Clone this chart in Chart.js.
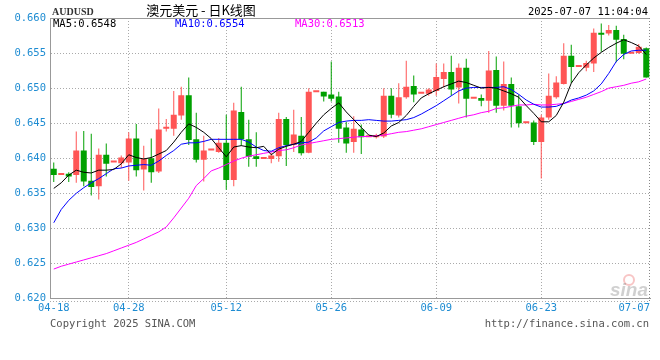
<!DOCTYPE html>
<html>
<head>
<meta charset="utf-8">
<title>澳元美元 - 日K线图</title>
<script src="https://cdn.jsdelivr.net/npm/chart.js@4.4.1/dist/chart.umd.min.js"></script>
<style>
  body { margin: 0; background: #fff; }
</style>
</head>
<body>
<canvas id="myChart" width="660" height="360"></canvas>
<script>
// header texts
var symbol = 'AUDUSD';
var title = '澳元美元 - 日K线图';
var stamp = '2025-07-07 11:04:04';
var copyright = 'Copyright 2025 SINA.COM';
var siteUrl = 'http://finance.sina.com.cn';

// one candle per day (saturdays are the small dashes)
var dates = [
  '04-18','04-19','04-20','04-21','04-22','04-23','04-24','04-25','04-26','04-27',
  '04-28','04-29','04-30','05-01','05-02','05-03','05-05','05-06','05-07','05-08',
  '05-09','05-10','05-11','05-12','05-13','05-14','05-15','05-16','05-17','05-18',
  '05-19','05-20','05-21','05-22','05-23','05-24','05-25','05-26','05-27','05-28',
  '05-29','05-30','05-31','06-01','06-02','06-03','06-04','06-05','06-06','06-07',
  '06-08','06-09','06-10','06-11','06-12','06-13','06-14','06-15','06-16','06-17',
  '06-18','06-19','06-20','06-21','06-22','06-23','06-24','06-25','06-26','06-27',
  '06-28','06-29','06-30','07-01','07-02','07-03','07-04','07-05','07-06','07-07'
];

var open = [
  .6385,.6376,.6378,.6376,.6411,.6368,.6360,.6405,.6394,.6393,
  .6394,.6428,.6384,.6400,.6381,.6442,.6442,.6461,.6490,.6427,
  .6398,.6411,.6409,.6422,.6369,.6466,.6427,.6403,.6399,.6399,
  .6403,.6456,.6419,.6432,.6408,.6494,.6495,.6491,.6488,.6444,
  .6423,.6441,.6430,.6430,.6431,.6489,.6461,.6487,.6503,.6492,
  .6492,.6496,.6513,.6523,.6501,.6529,.6485,.6486,.6482,.6526,
  .6475,.6506,.6474,.6450,.6451,.6423,.6458,.6487,.6506,.6546,
  .6530,.6529,.6535,.6579,.6578,.6583,.6570,.6549,.6550,.6557
];
var high = [
  .6394,.6376,.6380,.6438,.6439,.6435,.6414,.6421,.6394,.6404,
  .6437,.6449,.6418,.6428,.6471,.6456,.6496,.6502,.6515,.6465,
  .6432,.6411,.6429,.6462,.6479,.6502,.6455,.6437,.6399,.6408,
  .6465,.6459,.6469,.6459,.6500,.6494,.6495,.6538,.6495,.6452,
  .6460,.6448,.6430,.6435,.6500,.6500,.6507,.6539,.6518,.6492,
  .6500,.6535,.6535,.6546,.6535,.6542,.6485,.6491,.6553,.6545,
  .6538,.6515,.6491,.6450,.6454,.6462,.6521,.6517,.6564,.6562,
  .6530,.6539,.6585,.6592,.6590,.6589,.6576,.6549,.6563,.6558
];
var low = [
  .6366,.6376,.6366,.6365,.6360,.6347,.6341,.6374,.6394,.6386,
  .6368,.6374,.6354,.6365,.6379,.6438,.6432,.6455,.6419,.6394,
  .6367,.6411,.6408,.6355,.6360,.6418,.6388,.6388,.6399,.6393,
  .6395,.6389,.6409,.6404,.6407,.6494,.6481,.6481,.6422,.6408,
  .6408,.6406,.6430,.6428,.6429,.6457,.6458,.6485,.6480,.6492,
  .6489,.6489,.6501,.6489,.6478,.6458,.6485,.6474,.6465,.6465,
  .6468,.6444,.6444,.6450,.6419,.6371,.6455,.6485,.6505,.6507,
  .6530,.6524,.6523,.6552,.6575,.6537,.6541,.6549,.6549,.6515
];
var close = [
  .6376,.6376,.6374,.6411,.6367,.6359,.6405,.6392,.6394,.6401,
  .6428,.6383,.6399,.6380,.6441,.6442,.6462,.6490,.6426,.6398,
  .6411,.6411,.6422,.6369,.6468,.6427,.6402,.6399,.6399,.6404,
  .6456,.6419,.6434,.6407,.6495,.6494,.6488,.6485,.6442,.6421,
  .6442,.6430,.6430,.6433,.6489,.6462,.6487,.6502,.6491,.6492,
  .6498,.6516,.6523,.6498,.6529,.6485,.6485,.6482,.6525,.6475,
  .6506,.6475,.6450,.6450,.6423,.6458,.6489,.6508,.6546,.6530,
  .6530,.6536,.6579,.6576,.6583,.6569,.6549,.6549,.6559,.6515
];

// moving averages as drawn on the chart
var ma5 = [
  .6357,.6365,.6376,.6383,.6380,.6379,.6383,.6383,.6384,.6392,
  .6405,.6401,.6399,.6401,.6406,.6411,.6423,.6437,.6449,.6444,
  .6437,.6428,.6415,.6402,.6416,.6418,.6416,.6415,.6417,.6405,
  .6413,.6417,.6420,.6424,.6437,.6450,.6462,.6471,.6479,.6466,
  .6455,.6444,.6433,.6431,.6436,.6446,.6451,.6461,.6474,.6486,
  .6492,.6497,.6502,.6506,.6510,.6508,.6504,.6500,.6501,.6500,
  .6496,.6492,.6487,.6475,.6464,.6452,.6452,.6461,.6480,.6507,
  .6522,.6533,.6543,.6551,.6558,.6564,.6569,.6565,.6560,.6548
];
var ma10 = [
  .6308,.6327,.6340,.6350,.6358,.6365,.6371,.6378,.6385,.6386,
  .6389,.6390,.6391,.6390,.6396,.6404,.6411,.6420,.6422,.6422,
  .6424,.6427,.6427,.6427,.6427,.6427,.6423,.6416,.6411,.6410,
  .6415,.6418,.6420,.6422,.6423,.6429,.6439,.6445,.6451,.6453,
  .6454,.6454,.6455,.6454,.6453,.6453,.6454,.6455,.6458,.6463,
  .6469,.6475,.6482,.6489,.6496,.6500,.6501,.6501,.6501,.6501,
  .6502,.6498,.6491,.6483,.6477,.6473,.6473,.6474,.6478,.6483,
  .6486,.6490,.6496,.6506,.6521,.6538,.6548,.6553,.6554,.6554
];
var ma30 = [
  .6242,.6246,.6249,.6252,.6255,.6258,.6261,.6264,.6268,.6272,
  .6276,.6280,.6285,.6290,.6295,.6302,.6315,.6329,.6343,.6361,
  .6371,.6382,.6386,.6391,.6396,.6400,.6403,.6405,.6407,.6409,
  .6411,.6412,.6415,.6419,.6421,.6423,.6425,.6427,.6428,.6429,
  .6430,.6431,.6431,.6432,.6433,.6435,.6437,.6438,.6440,.6442,
  .6445,.6448,.6451,.6454,.6457,.6460,.6462,.6465,.6467,.6471,
  .6472,.6474,.6476,.6476,.6477,.6476,.6476,.6477,.6478,.6481,
  .6484,.6487,.6491,.6495,.6500,.6502,.6504,.6507,.6509,.6513
];

// axes
var xLabelDates = ['04-18','04-28','05-12','05-26','06-09','06-23','07-07'];
var xGridDates = ['04-28','05-12','05-26','06-09','06-23'];
var yMin = 0.620, yMax = 0.660, yStep = 0.005;

var upColor = '#ff5555';
var downColor = '#00a000';
var axisBlue = '#1e8cd2';
var mono = '"DejaVu Sans Mono", "Liberation Mono", monospace';

var wicks = low.map(function(l, i) { return [l, high[i]]; });
var bodies = open.map(function(o, i) { return [Math.min(o, close[i]), Math.max(o, close[i])]; });
var candleColors = close.map(function(c, i) { return c >= open[i] ? upColor : downColor; });

// texts, border lines and the watermark
var sinaPlugin = {
  id: 'sinaDecor',
  beforeDatasetsDraw: function(chart) {
    var c = chart.ctx, a = chart.chartArea;
    c.save();
    // watermark
    c.strokeStyle = 'rgba(235,90,90,0.35)';
    c.lineWidth = 2;
    c.beginPath();
    c.arc(629, 280, 5, 0, Math.PI * 2);
    c.stroke();
    c.fillStyle = 'rgba(120,120,120,0.35)';
    c.font = 'italic bold 19px "Liberation Sans", Arial, sans-serif';
    c.textAlign = 'right';
    c.textBaseline = 'alphabetic';
    c.fillText('sina', 648, 296);
    // top line
    c.strokeStyle = '#999';
    c.lineWidth = 1;
    c.beginPath();
    c.moveTo(a.left, Math.round(a.top) + 0.5);
    c.lineTo(a.right, Math.round(a.top) + 0.5);
    c.stroke();
    // right border and the dotted line under the x axis
    c.setLineDash([1, 2]);
    c.strokeStyle = '#888';
    c.beginPath();
    c.moveTo(Math.round(a.right) - 0.5, a.top);
    c.lineTo(Math.round(a.right) - 0.5, a.bottom + 3);
    c.stroke();
    c.strokeStyle = '#aaa';
    c.beginPath();
    c.moveTo(a.left, Math.round(a.bottom) + 2.5);
    c.lineTo(a.right, Math.round(a.bottom) + 2.5);
    c.stroke();
    c.restore();
  },
  afterDraw: function(chart) {
    var c = chart.ctx, a = chart.chartArea, xs = chart.scales.x;
    c.save();
    c.textBaseline = 'middle';

    c.fillStyle = '#333';
    c.font = 'bold 10px "Liberation Serif", serif';
    c.textAlign = 'left';
    c.fillText(symbol, 52, 12);

    c.fillStyle = '#000';
    c.font = '13px "Noto Sans CJK SC", sans-serif';
    c.textAlign = 'center';
    c.fillText(title, 201, 10);

    c.font = '10.5px ' + mono;
    c.textAlign = 'right';
    c.fillText(stamp, 648, 12.5);

    // MA legend
    c.textAlign = 'left';
    c.fillStyle = '#000';
    c.fillText('MA5:' + ma5[ma5.length - 1].toFixed(4), 53, 24);
    c.fillStyle = '#0000ff';
    c.fillText('MA10:' + ma10[ma10.length - 1].toFixed(4), 175, 24);
    c.fillStyle = '#ff00ff';
    c.fillText('MA30:' + ma30[ma30.length - 1].toFixed(4), 295, 24);

    // date labels
    c.fillStyle = axisBlue;
    c.textAlign = 'center';
    xLabelDates.forEach(function(d) {
      var x = xs.getPixelForValue(dates.indexOf(d));
      var w = c.measureText(d).width;
      x = Math.min(x, a.right - w / 2);
      c.fillText(d, x, 308.5);
    });

    c.fillStyle = '#555';
    c.textAlign = 'left';
    c.fillText(copyright, 50, 324);
    c.textAlign = 'right';
    c.fillText(siteUrl, 649, 324);
    c.restore();
  }
};

var ctx = document.getElementById('myChart');
var chart = new Chart(ctx, {
  type: 'bar',
  data: {
    labels: dates,
    datasets: [
      { type: 'line', label: 'MA5', data: ma5, borderColor: '#000', borderWidth: 1, pointRadius: 0, tension: 0, order: 0 },
      { type: 'line', label: 'MA10', data: ma10, borderColor: '#0000ff', borderWidth: 1, pointRadius: 0, tension: 0, order: 0 },
      { type: 'line', label: 'MA30', data: ma30, borderColor: '#ff00ff', borderWidth: 1, pointRadius: 0, tension: 0, order: 0 },
      {
        label: 'body', data: bodies, backgroundColor: candleColors,
        barPercentage: 0.8, categoryPercentage: 1, minBarLength: 2,
        grouped: false, inflateAmount: 0, borderWidth: 0, order: 1
      },
      {
        label: 'wick', data: wicks, backgroundColor: candleColors,
        barThickness: 1, grouped: false, inflateAmount: 0, borderWidth: 0, order: 2
      }
    ]
  },
  options: {
    responsive: false,
    animation: false,
    events: [],
    layout: { padding: { top: 18, right: 10, bottom: 61.5, left: 0 } },
    plugins: { legend: { display: false }, tooltip: { enabled: false } },
    scales: {
      x: {
        type: 'category',
        offset: true,
        grid: {
          offset: false,
          drawTicks: false,
          color: function(c) {
            return xGridDates.indexOf(dates[c.index]) >= 0 ? '#aaa' : 'rgba(0,0,0,0)';
          }
        },
        border: { display: true, color: '#999', dash: [1, 2] },
        ticks: { display: false }
      },
      y: {
        min: yMin,
        max: yMax,
        afterFit: function(scale) { scale.width = 50; },
        grid: {
          drawTicks: false,
          color: function(c) {
            if (!c.tick) return 'rgba(0,0,0,0)';
            var v = c.tick.value;
            return (Math.abs(v - yMin) < 1e-6 || Math.abs(v - yMax) < 1e-6) ? 'rgba(0,0,0,0)' : '#aaa';
          }
        },
        border: { display: true, color: '#999', dash: [1, 2] },
        ticks: {
          stepSize: yStep,
          padding: 4,
          color: axisBlue,
          font: { family: mono, size: 10.5 },
          callback: function(v) { return v.toFixed(3); }
        }
      }
    }
  },
  plugins: [sinaPlugin]
});
</script>
</body>
</html>
